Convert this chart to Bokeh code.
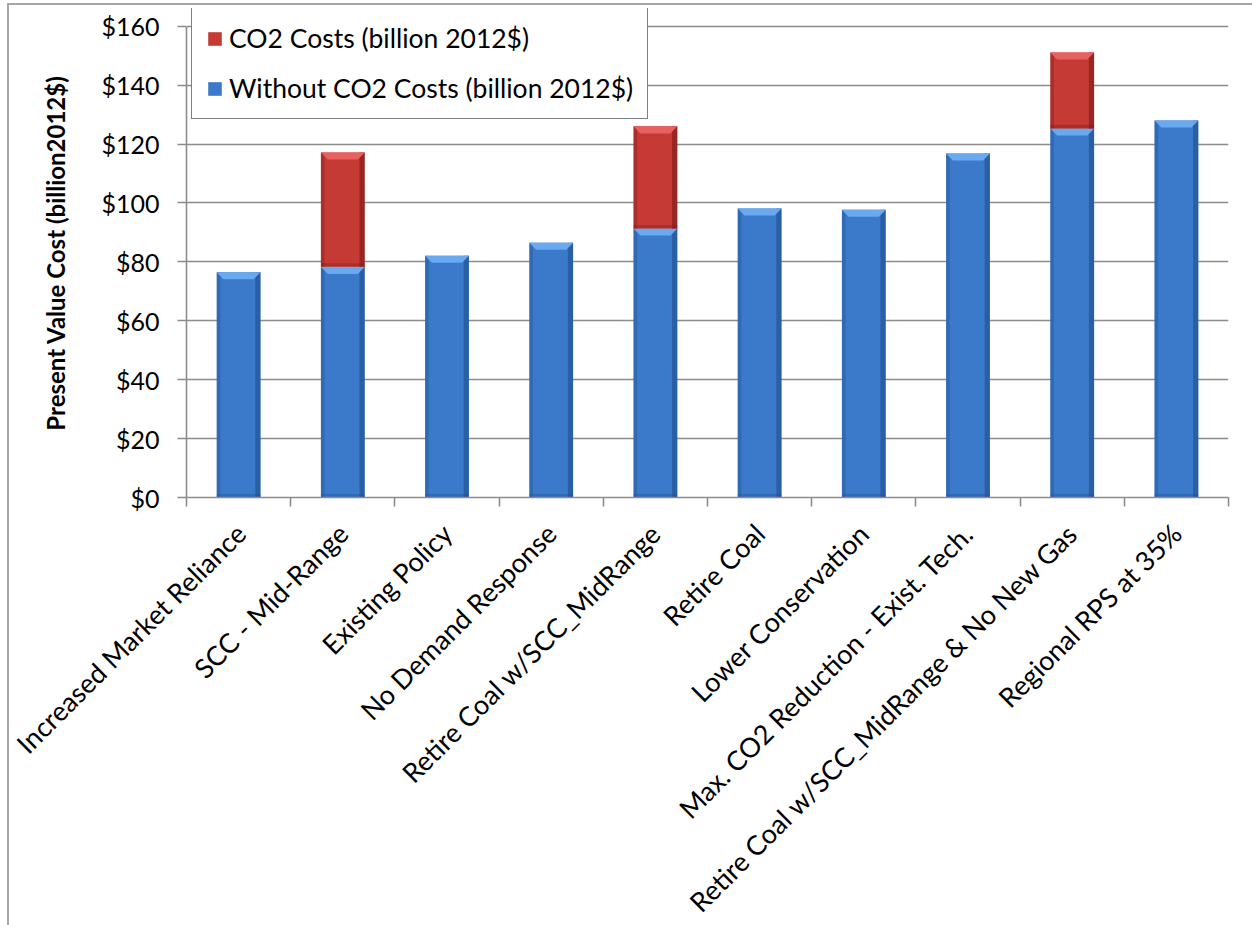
import numpy as np
from bokeh.plotting import figure
from bokeh.models import FixedTicker, Legend, LegendItem, Range1d
from bokeh.embed import file_html
from bokeh.resources import INLINE

categories = [
    "Increased Market Reliance",
    "SCC - Mid-Range",
    "Existing Policy",
    "No Demand Response",
    "Retire Coal w/SCC_MidRange",
    "Retire Coal",
    "Lower Conservation",
    "Max. CO2 Reduction - Exist. Tech.",
    "Retire Coal w/SCC_MidRange & No New Gas",
    "Regional RPS at 35%",
]
without_co2 = [76.5, 78.3, 82.1, 86.5, 91.3, 98.1, 97.7, 116.8, 125.3, 128.0]
co2_costs = [0.0, 38.8, 0.0, 0.0, 34.7, 0.0, 0.0, 0.0, 25.8, 0.0]
y_ticks = [0, 20, 40, 60, 80, 100, 120, 140, 160]
y_tick_labels = ["$0", "$20", "$40", "$60", "$80", "$100", "$120", "$140", "$160"]
series_names = ["CO2 Costs (billion 2012$)", "Without CO2 Costs (billion 2012$)"]

FONT = "Lato"
GREY = "#8c8c8c"
BAR_W = 0.42

n = len(categories)
xc = np.arange(n) + 0.5

# frame extends a little above the top tick so the legend is not clipped
p = figure(width=1245, height=927, output_backend="svg", toolbar_location=None,
           x_range=Range1d(0, n), y_range=Range1d(0, 166),
           min_border_left=177, min_border_right=26, min_border_top=3,
           min_border_bottom=430, margin=(3, 0, 0, 7))
p.styles = {"border-left": "2px solid #a6a6a6", "border-top": "2px solid #a6a6a6"}
p.outline_line_color = None
p.background_fill_color = "white"
p.border_fill_color = "white"


def draw_segments(x, bottom, top, main, light, dark):
    x = np.asarray(x, dtype=float)
    bottom = np.asarray(bottom, dtype=float)
    top = np.asarray(top, dtype=float)
    left = x - BAR_W / 2
    right = x + BAR_W / 2
    r = p.quad(left=left, right=right, bottom=bottom, top=top,
               fill_color=main, line_color=None)
    # side shading
    p.quad(left=left, right=left + 0.035, bottom=bottom, top=top,
           fill_color=dark, fill_alpha=0.35, line_color=None)
    p.quad(left=right - 0.05, right=right, bottom=bottom, top=top,
           fill_color=dark, fill_alpha=0.6, line_color=None)
    # bottom shading
    p.quad(left=left, right=right, bottom=bottom, top=bottom + 1.2,
           fill_color=dark, fill_alpha=0.35, line_color=None)
    # top bevel
    bh = 2.4
    bx = 0.065
    xs = [[l, rr, rr - bx, l + bx] for l, rr in zip(left, right)]
    ys = [[t, t, t - bh, t - bh] for t in top]
    p.patches(xs=xs, ys=ys, fill_color=light, line_color=None)
    return r


base = np.zeros(n)
wo = np.asarray(without_co2)
blue_r = draw_segments(xc, base, wo, "#3b79ca", "#68a9f0", "#1f4f8c")

co2 = np.asarray(co2_costs)
mask = co2 > 0
red_r = draw_segments(xc[mask], wo[mask], wo[mask] + co2[mask], "#c63a36", "#e86060", "#7a1a18")

# grid
p.xgrid.grid_line_color = None
p.ygrid.grid_line_color = GREY
p.ygrid.grid_line_width = 1.6
p.ygrid.ticker = FixedTicker(ticks=y_ticks)

# y axis
p.yaxis.ticker = FixedTicker(ticks=y_ticks)
p.yaxis.bounds = (y_ticks[0], y_ticks[-1])
p.yaxis.major_label_overrides = {t: l for t, l in zip(y_ticks, y_tick_labels)}
p.yaxis.axis_line_color = GREY
p.yaxis.axis_line_width = 1.6
p.yaxis.major_tick_line_color = GREY
p.yaxis.major_tick_line_width = 1.6
p.yaxis.major_tick_out = 9
p.yaxis.major_tick_in = 0
p.yaxis.minor_tick_line_color = None
p.yaxis.major_label_text_font = FONT
p.yaxis.major_label_text_font_size = "25px"
p.yaxis.major_label_text_color = "black"
p.yaxis.major_label_standoff = 18
p.yaxis.axis_label = "Present Value Cost (billion2012$)"
p.yaxis.axis_label_text_font = FONT
p.yaxis.axis_label_text_font_style = "bold"
p.yaxis.axis_label_text_font_size = "24px"
p.yaxis.axis_label_text_color = "black"
p.yaxis.axis_label_standoff = 28

# x axis
p.xaxis.ticker = FixedTicker(ticks=list(xc), minor_ticks=list(np.arange(n + 1)))
p.xaxis.major_label_overrides = {float(x): c for x, c in zip(xc, categories)}
p.xaxis.axis_line_color = GREY
p.xaxis.axis_line_width = 1.6
p.xaxis.major_tick_line_color = None
p.xaxis.minor_tick_line_color = GREY
p.xaxis.minor_tick_line_width = 1.6
p.xaxis.minor_tick_out = 9
p.xaxis.minor_tick_in = 0
p.xaxis.major_label_orientation = np.pi / 4
p.xaxis.major_label_text_font = FONT
p.xaxis.major_label_text_font_size = "27px"
p.xaxis.major_label_text_color = "black"
p.xaxis.major_label_standoff = 22

legend = Legend(items=[LegendItem(label=series_names[0], renderers=[red_r]),
                       LegendItem(label=series_names[1], renderers=[blue_r])],
                location=(5, 378))
legend.label_text_font = FONT
legend.label_text_font_size = "26.5px"
legend.label_text_color = "black"
legend.glyph_width = 17
legend.glyph_height = 17
legend.label_standoff = 6
legend.spacing = 18
legend.padding = 14
legend.margin = 0
legend.border_line_color = "black"
legend.border_line_width = 1.6
legend.background_fill_color = "white"
legend.background_fill_alpha = 1.0
p.add_layout(legend, "center")

open("out.html", "w").write(file_html(p, INLINE))
